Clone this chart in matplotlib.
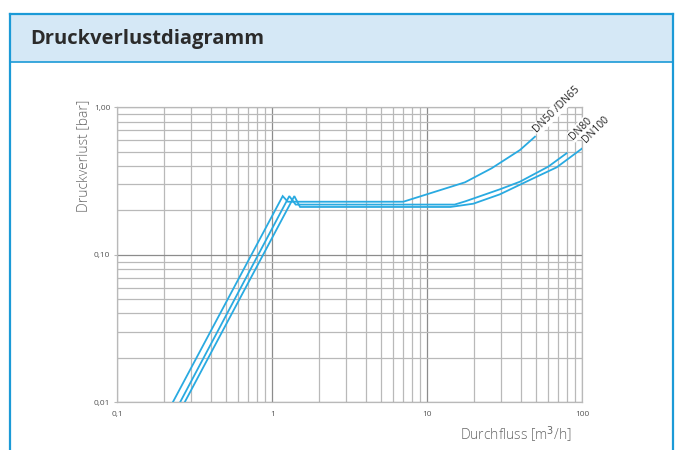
import numpy as np
import matplotlib
matplotlib.use('Agg')
import matplotlib.pyplot as plt
from matplotlib.patches import Rectangle
from matplotlib.lines import Line2D
from matplotlib.ticker import FixedLocator, NullFormatter

plt.rcParams['font.family'] = ['Open Sans', 'DejaVu Sans']

# Durchfluss [m3/h] / Druckverlust [bar]
dn50_x = [0.228, 1.167, 1.26, 7.0, 17.5, 26.0, 39.6, 49.5]
dn50_y = [0.01, 0.250, 0.229, 0.229, 0.31, 0.386, 0.513, 0.632]
dn80_x = [0.254, 1.287, 1.415, 15.0, 17.5, 29.4, 39.6, 60.3, 79.2]
dn80_y = [0.01, 0.250, 0.219, 0.219, 0.230, 0.278, 0.313, 0.396, 0.488]
dn100_x = [0.272, 1.387, 1.51, 14.1, 19.8, 29.4, 46.0, 68.4, 100.0]
dn100_y = [0.01, 0.250, 0.211, 0.211, 0.222, 0.257, 0.322, 0.392, 0.527]

series = [('DN50 /DN65', dn50_x, dn50_y),
          ('DN80', dn80_x, dn80_y),
          ('DN100', dn100_x, dn100_y)]
label_pos = [(52.6, 0.649), (89.7, 0.585), (109.0, 0.555)]

x_ticks = [0.1, 1, 10, 100]
x_ticklabels = ['0,1', '1', '10', '100']
y_ticks = [0.01, 0.1, 1.0]
y_ticklabels = ['0,01', '0,10', '1,00']

W, H = 681, 450
fig = plt.figure(figsize=(W / 100, H / 100), dpi=100)

def fx(px):
    return px / W

def fy(py):
    return 1 - py / H

#%% Rahmen + Kopfzeile
border = '#1b9ad7'
fig.add_artist(Rectangle((fx(10), fy(62)), fx(673) - fx(10), fy(14) - fy(62),
                         transform=fig.transFigure, facecolor='#d5e8f6',
                         edgecolor='none', zorder=0))
fig.add_artist(Line2D([fx(10), fx(10)], [fy(14), fy(460)], transform=fig.transFigure,
                      color=border, lw=1.6))
fig.add_artist(Line2D([fx(673), fx(673)], [fy(14), fy(460)], transform=fig.transFigure,
                      color=border, lw=1.6))
fig.add_artist(Line2D([fx(10), fx(673)], [fy(14), fy(14)], transform=fig.transFigure,
                      color=border, lw=1.6))
fig.add_artist(Line2D([fx(10), fx(673)], [fy(62), fy(62)], transform=fig.transFigure,
                      color=border, lw=1.2))
fig.text(fx(30), fy(39), 'Druckverlustdiagramm', fontsize=14.5, fontweight='bold',
         color='#2b2b2b', ha='left', va='center')

#%% Diagramm
ax = fig.add_axes([fx(117.3), fy(402.3), fx(582.3) - fx(117.3), fy(107.3) - fy(402.3)])
ax.set_xscale('log')
ax.set_yscale('log')
ax.set_xlim(0.1, 100)
ax.set_ylim(0.01, 1.0)

ax.xaxis.set_major_locator(FixedLocator(x_ticks))
ax.set_xticklabels(x_ticklabels)
ax.yaxis.set_major_locator(FixedLocator(y_ticks))
ax.set_yticklabels(y_ticklabels)
minor_x = [m * d for d in [0.1, 1, 10] for m in range(2, 10)]
minor_y = [m * d for d in [0.01, 0.1] for m in range(2, 10)]
ax.xaxis.set_minor_locator(FixedLocator(minor_x))
ax.yaxis.set_minor_locator(FixedLocator(minor_y))
ax.xaxis.set_minor_formatter(NullFormatter())
ax.yaxis.set_minor_formatter(NullFormatter())

ax.grid(True, which='minor', color='#b9b9b9', lw=0.9)
ax.grid(True, which='major', color='#8c8c8c', lw=0.9)
for s in ax.spines.values():
    s.set_color('#b9b9b9')
    s.set_linewidth(0.9)
ax.tick_params(which='both', length=0, labelsize=6, colors='#555555')
ax.tick_params(axis='y', which='major', length=2, pad=3, color='#b9b9b9')
ax.tick_params(axis='x', which='major', pad=6)

for name, xs, ys in series:
    ax.plot(xs, ys, color='#29aae1', lw=1.3, solid_joinstyle='miter', zorder=3)

for (name, xs, ys), (lx, ly) in zip(series, label_pos):
    ax.text(lx, ly, name, rotation=45, rotation_mode='anchor', ha='left', va='bottom',
            fontsize=7.5, color='#222222', zorder=5, clip_on=False,
            bbox=dict(facecolor='white', edgecolor='none', pad=0.6))

fig.text(fx(84), fy(156), 'Druckverlust [bar]', rotation=90, fontsize=10,
         color='#666666', ha='center', va='center', fontweight='light')
fig.text(fx(572), fy(435), 'Durchfluss [m$^3$/h]', fontsize=10,
         color='#666666', ha='right', va='center', fontweight='light')

fig.savefig('out.png', dpi=100)
